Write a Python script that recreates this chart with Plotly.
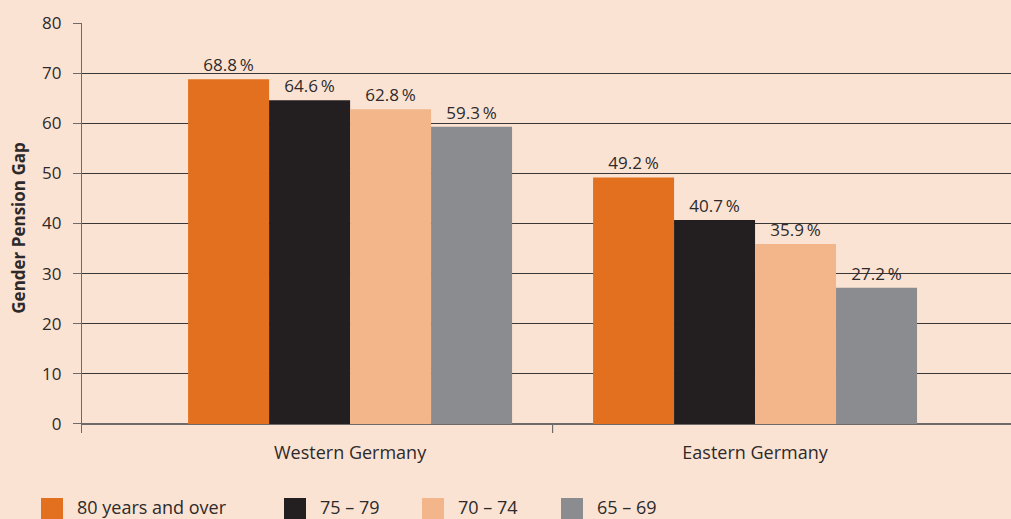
import plotly.graph_objects as go

regions = ["Western Germany", "Eastern Germany"]
age_groups = ["80 years and over", "75 \u2013 79", "70 \u2013 74", "65 \u2013 69"]
gap_80_plus = [68.8, 49.2]
gap_75_79 = [64.6, 40.7]
gap_70_74 = [62.8, 35.9]
gap_65_69 = [59.3, 27.2]
y_ticks = [0, 10, 20, 30, 40, 50, 60, 70, 80]

series = [gap_80_plus, gap_75_79, gap_70_74, gap_65_69]
colors = ["#e3701e", "#231f20", "#f3b68a", "#8b8c8f"]

W, H = 1011, 519
L, R, T, B = 82, 0, 23, 86
BG = "#fbe3d3"
TXT = "#2d2a2b"
FONT = "Open Sans"

fig = go.Figure()
for name, vals, col in zip(age_groups, series, colors):
    fig.add_trace(go.Bar(
        x=regions, y=vals, name=name,
        marker=dict(color=col, line=dict(width=0)),
        texttemplate="%{y:.1f}\u2009%", textposition="outside",
        textfont=dict(size=17, color=TXT, family=FONT),
        cliponaxis=False, showlegend=False,
    ))

# category boundary tick
fig.add_shape(type="line", xref="x", yref="y", x0=0.5, x1=0.5, y0=0, y1=-1.8,
              line=dict(color="#6d6a69", width=1.2))

# legend row along the bottom edge
plot_w = W - L - R
plot_h = H - T - B
def px_x(p):
    return (p - L) / plot_w
def px_y(p):
    return (H - B - p) / plot_h

swatch_x = [41, 284, 422, 561]
for sx, name, col in zip(swatch_x, age_groups, colors):
    fig.add_shape(type="rect", xref="paper", yref="paper",
                  x0=px_x(sx), x1=px_x(sx + 22), y0=px_y(498), y1=px_y(522),
                  fillcolor=col, line=dict(width=0), layer="above")
    fig.add_annotation(xref="paper", yref="paper", x=px_x(sx + 34), y=px_y(507),
                       xanchor="left", yanchor="middle", showarrow=False,
                       text=name, font=dict(size=18, color=TXT, family=FONT))

fig.update_layout(
    width=W, height=H,
    margin=dict(l=L, r=R, t=T, b=B, autoexpand=False),
    paper_bgcolor=BG, plot_bgcolor=BG,
    font=dict(family=FONT, color=TXT, size=16),
    barmode="group", bargap=0.2, bargroupgap=0,
    showlegend=False,
)
fig.update_xaxes(
    range=[-0.662, 1.632], showgrid=False, showline=False, zeroline=False,
    ticks="", tickfont=dict(size=18), ticklabelstandoff=7,
)
fig.update_yaxes(
    range=[-1.8, 80], tickvals=y_ticks,
    showgrid=True, gridcolor="#3a3738", gridwidth=1,
    zeroline=True, zerolinecolor="#6d6a69", zerolinewidth=1.5,
    showline=True, linecolor="#6d6a69", linewidth=1.2,
    ticks="outside", ticklen=8, tickcolor="#6d6a69", tickwidth=1.2,
    tickfont=dict(size=17), ticklabelstandoff=8,
    title=dict(text="<b>Gender Pension Gap</b>", font=dict(size=17), standoff=12),
)

fig.write_html("out.html", config={"displayModeBar": False},
               post_script="document.body.style.margin='0';")
